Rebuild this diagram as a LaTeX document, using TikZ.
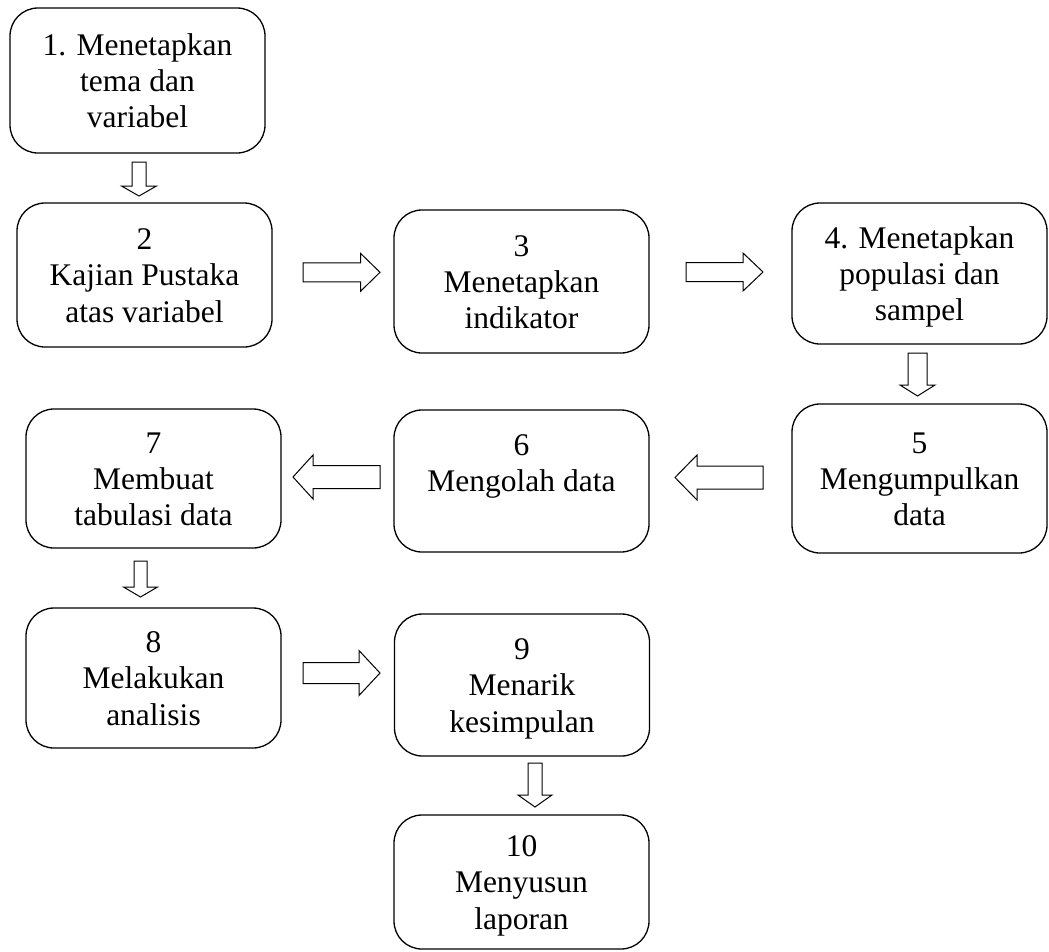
\documentclass[tikz,border=0pt]{standalone}
\usepackage{fontspec}
\setmainfont{Liberation Serif}
\newcommand{\boxtext}[1]{\parbox[c][95pt][t]{250pt}{\centering\fontsize{31.5pt}{36.3pt}\selectfont\rule{0pt}{22pt}#1}}
\tikzset{
  stepbox/.style={draw, line width=1.3pt, rounded corners=28pt, inner sep=0pt,
    minimum width=255pt, minimum height=#1, font=\fontsize{31.5pt}{36.3pt}\selectfont},
  arrowline/.style={draw, line width=1pt, fill=white, line join=miter},
  pics/barrow/.style n args={4}{code={
    \path[arrowline] (0,-#2) -- ({#1-#4},-#2) -- ({#1-#4},-#3) -- (#1,0)
      -- ({#1-#4},#3) -- ({#1-#4},#2) -- (0,#2) -- cycle;
  }}
}
\begin{document}
\begin{tikzpicture}[x=1pt,y=-1pt]
\useasboundingbox (0,0) rectangle (1049,951);

\node[stepbox=145pt] (b1) at (137.5,80.5) {\boxtext{1. Menetapkan\\tema dan\\variabel}};
\node[stepbox=144pt] (b2) at (144.5,275) {\boxtext{2\\Kajian Pustaka\\atas variabel}};
\node[stepbox=143pt] (b3) at (521.5,281.5) {\boxtext{3\\Menetapkan\\indikator}};
\node[stepbox=141pt] (b4) at (919.5,273.5) {\boxtext{4. Menetapkan\\populasi dan\\sampel}};
\node[stepbox=149pt] (b5) at (919.5,478.5) {\boxtext{5\\Mengumpulkan\\data}};
\node[stepbox=142pt] (b6) at (521.5,481) {\boxtext{6\\Mengolah data}};
\node[stepbox=139pt] (b7) at (153.5,478.5) {\boxtext{7\\Membuat\\tabulasi data}};
\node[stepbox=140pt] (b8) at (153.5,678) {\boxtext{8\\Melakukan\\analisis}};
\node[stepbox=142pt] (b9) at (522,685) {\boxtext{9\\Menarik\\kesimpulan}};
\node[stepbox=134pt] (b10) at (521.5,882) {\boxtext{10\\Menyusun\\laporan}};

\pic[rotate=-90] (a12) at (139,162) {barrow={34}{7}{17.5}{10}};
\pic (a23) at (303,272.3) {barrow={77}{9.5}{19}{19.5}};
\pic (a34) at (686,272) {barrow={77}{9.5}{19}{20}};
\pic[rotate=-90] (a45) at (917.5,353) {barrow={43}{9.5}{17.5}{11}};
\pic[rotate=180] (a56) at (763,477.5) {barrow={88}{11.5}{22.5}{22}};
\pic[rotate=180] (a67) at (380,477) {barrow={87}{11.5}{22}{20}};
\pic[rotate=-90] (a78) at (140.5,561) {barrow={36}{6.5}{17}{10}};
\pic (a89) at (303,673) {barrow={77}{10.5}{22.5}{21}};
\pic[rotate=-90] (a910) at (535,763) {barrow={44}{7}{17}{12}};
\end{tikzpicture}
\end{document}
